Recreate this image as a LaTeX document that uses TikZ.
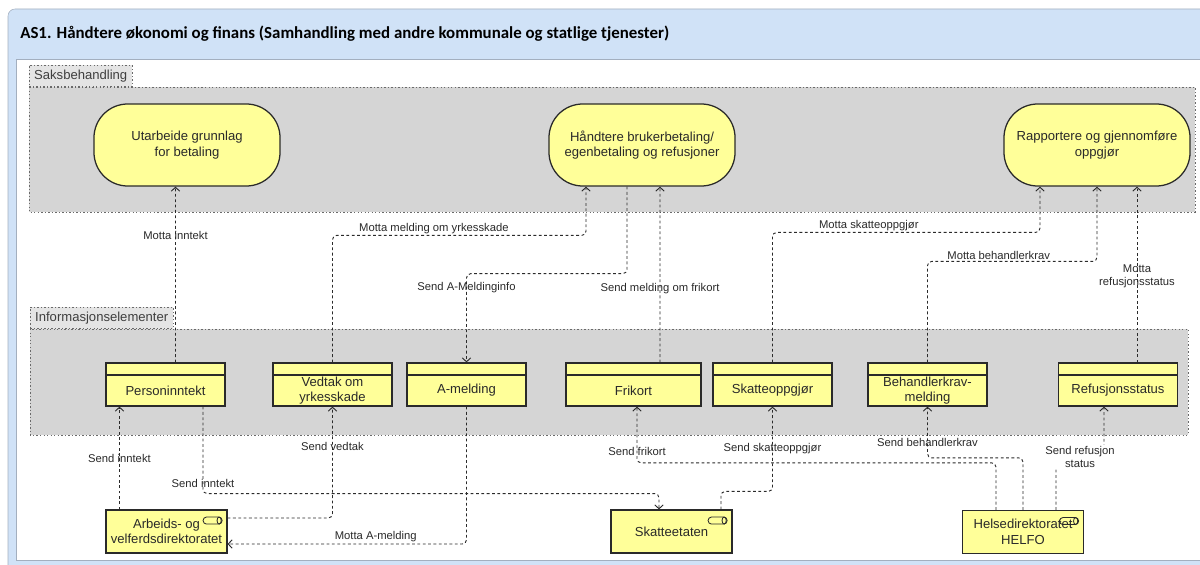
\documentclass[tikz,border=0pt]{standalone}
\usepackage{fontspec}
\setmainfont{Liberation Sans}
\newfontfamily\titlefont{Carlito}
\usetikzlibrary{arrows.meta}
\usetikzlibrary{calc,positioning}

\definecolor{framebg}{HTML}{D0E2F7}
\definecolor{frameline}{HTML}{A3AFBF}
\definecolor{lanefill}{HTML}{D5D5D5}
\definecolor{tabfill}{HTML}{E4E4E4}
\definecolor{archyellow}{HTML}{FFFF99}
\definecolor{ink}{HTML}{2A2A2A}

\tikzset{
	lane/.style={fill=lanefill, draw=ink!70, dash pattern=on 1pt off 1.5pt},
	lanetab/.style={fill=tabfill, draw=ink!70, dash pattern=on 1pt off 1.5pt, anchor=south west,
		minimum height=14.9pt, inner xsep=3.5pt, text=ink!90, font=\fontsize{9.3}{11}\selectfont},
	process/.style={draw=ink, line width=0.9pt, fill=archyellow, rounded corners=24pt,
		minimum width=4.65cm, minimum height=2.05cm, align=center, text=ink,
		font=\fontsize{9.3}{11.1}\selectfont},
	objtext/.style={yshift=-4.3pt, align=center, inner sep=0pt, text=ink,
		font=\fontsize{9.3}{11.1}\selectfont},
	dataobj/.style={draw=ink, line width=0.85pt, fill=archyellow, minimum width=2.975cm,
		minimum height=1.075cm, label={[objtext]center:#1},
		path picture={\draw[ink, line width=0.8pt]
			($(path picture bounding box.north west)+(0pt,-8.5pt)$) --
			($(path picture bounding box.north east)+(0pt,-8.5pt)$);}},
	actor/.style={draw=ink, line width=0.85pt, fill=archyellow, minimum width=3.025cm,
		minimum height=1.075cm, align=center, text=ink, font=\fontsize{9.3}{11.1}\selectfont,
		path picture={
			\draw[ink, line width=0.6pt, rounded corners=2.4pt]
				($(path picture bounding box.north east)+(-17pt,-5pt)$) rectangle
				($(path picture bounding box.north east)+(-3.5pt,-10pt)$);
			\draw[ink, line width=0.6pt]
				($(path picture bounding box.north east)+(-5.6pt,-7.5pt)$) ellipse (1.5pt and 2.5pt);}},
	access/.style={draw=ink, line width=0.65pt, dash pattern=on 2pt off 1.8pt, rounded corners=3pt, ->},
	msg/.style={text=ink, font=\fontsize{8}{9.6}\selectfont, align=center, inner sep=1pt},
}

\begin{document}
\begin{tikzpicture}[x=0.025cm, y=-0.025cm]
	\useasboundingbox (0,0) rectangle (1200,564);
	\clip (0,0) rectangle (1200,564);
	\filldraw[fill=framebg, draw=frameline, rounded corners=5pt] (8,9) rectangle (1230,600);
	\filldraw[fill=white, draw=frameline] (16,59) rectangle (1230,560);
	\node[anchor=west, inner sep=0pt, font=\titlefont\bfseries\fontsize{12}{14}\selectfont] (title) at (20,34)
		{AS1. Håndtere økonomi og finans (Samhandling med andre kommunale og statlige tjenester)};

	\draw[lane] (29,87) rectangle (1195,212);
	\node[lanetab] (saktab) at (29,87) {Saksbehandling};
	\draw[lane] (30,329) rectangle (1188,435);
	\node[lanetab] (infotab) at (30,329) {Informasjonselementer};

	\begin{scope}[every node/.style={process}]
		\node (utarb) at (187,145) {Utarbeide grunnlag\\for betaling};
		\node (handt) at (642,145) {Håndtere brukerbetaling/\\egenbetaling og refusjoner};
		\node (rapp) at (1097,145) {Rapportere og gjennomføre\\oppgjør};
	\end{scope}

	\node[dataobj=Personinntekt] (pinn) at (165.5,384.5) {};
	\node[dataobj={Vedtak om\\yrkesskade}] (vedtak) at (332.5,384.5) {};
	\node[dataobj=A-melding] (amld) at (466.5,384.5) {};
	\node[dataobj=Frikort, minimum width=3.375cm] (frik) at (633.5,384.5) {};
	\node[dataobj=Skatteoppgjør] (skatt) at (772.5,384.5) {};
	\node[dataobj={Behandlerkrav-\\melding}] (behk) at (927.5,384.5) {};
	\node[dataobj=Refusjonsstatus] (refs) at (1118,384.5) {};

	\node[actor] (nav) at (166.5,531.5) {Arbeids- og\\velferdsdirektoratet};
	\node[actor] (skeet) at (671.5,531.5) {Skatteetaten};
	\node[actor] (helfo) at (1023,532) {Helsedirektoratet\\HELFO};

	\begin{scope}[>={Straight Barb[length=2.8pt,width=6pt]}]
		\draw[access] ($(pinn.north)+(10,0)$) -- ($(utarb.south)+(-11.5,0)$) node[msg,pos=0.72] {Motta inntekt};
		\draw[access] (vedtak.north) -- ++(0,-127) -| ($(handt.south)+(-56,0)$) node[msg,above,pos=0.2] {Motta melding om yrkesskade};
		\draw[access] ($(handt.south)+(-15,0)$) -- ++(0,87) -| (amld.north) node[msg,pos=0.58] {Send A-Meldinginfo};
		\draw[access] ($(frik.north)+(26.5,0)$) -- ($(handt.south)+(18,0)$) node[msg,pos=0.42] {Send melding om frikort};
		\draw[access] (skatt.north) -- ++(0,-130) -| ($(rapp.south)+(-57,0)$) node[msg,above,pos=0.18] {Motta skatteoppgjør};
		\draw[access] (behk.north) -- ++(0,-101) -| (rapp.south) node[msg,above,pos=0.21] {Motta behandlerkrav};
		\draw[access] ($(refs.north)+(19,0)$) -- ($(rapp.south)+(40,0)$) node[msg,pos=0.49] {Motta\\refusjonsstatus};

		\draw[access] ($(nav.north)+(-47,0)$) -- ($(pinn.south)+(-46,0)$) node[msg,pos=0.5] {Send inntekt};
		\draw[access] ($(pinn.south)+(37.5,0)$) -- ++(0,87) node[msg,pos=0.88] {Send inntekt} -| ($(skeet.north)+(-12.5,0)$);
		\draw[access] ($(nav.east)+(0,-13.5)$) -| (vedtak.south) node[msg,pos=0.82] {Send vedtak};
		\draw[access] (amld.south) |- ($(nav.east)+(0,12.5)$) node[msg,above,pos=0.69] {Motta A-melding};
		\draw[access] ($(skeet.north)+(49.5,0)$) -- ++(0,-18) -| (skatt.south) node[msg,pos=0.75] {Send skatteoppgjør};
		\draw[access] ($(helfo.north)+(-27,0)$) -- ++(0,-47) -| ($(frik.south)+(3.5,0)$) node[msg,pos=0.6] {Send frikort};
		\draw[access] (helfo.north) -- ++(0,-52) -| (behk.south) node[msg,pos=0.65] {Send behandlerkrav};
		\draw[access] ($(helfo.north)+(33,0)$) -- ++(0,-53) -| ($(refs.south)+(-14,0)$) node[msg,fill=white,pos=0.25] {Send refusjon\\status};
	\end{scope}
\end{tikzpicture}
\end{document}
